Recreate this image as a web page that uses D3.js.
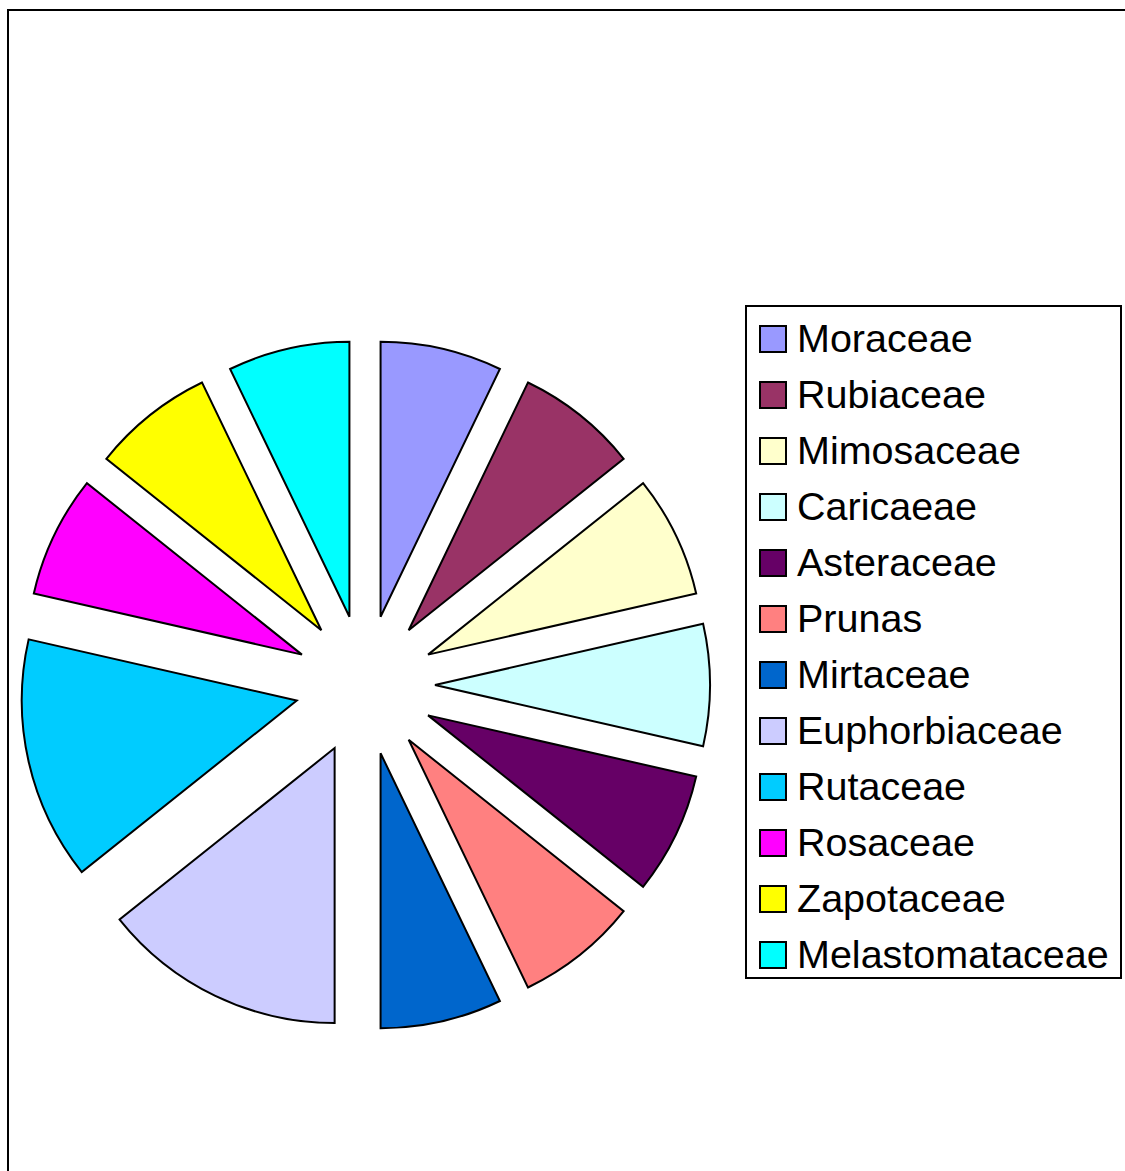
<!DOCTYPE html>
<html>
<head>
<meta charset="utf-8">
<script src="https://cdn.jsdelivr.net/npm/d3@7"></script>
<style>
  html, body { margin: 0; padding: 0; background: #fff; }
  svg { display: block; }
</style>
</head>
<body>
<svg id="chart" width="1125" height="1171"></svg>
<script>
// Plant families and their counts
const families = ["Moraceae", "Rubiaceae", "Mimosaceae", "Caricaeae", "Asteraceae", "Prunas",
                  "Mirtaceae", "Euphorbiaceae", "Rutaceae", "Rosaceae", "Zapotaceae", "Melastomataceae"];
const counts = [1, 1, 1, 1, 1, 1, 1, 2, 2, 1, 1, 1];
const colors = ["#9999FF", "#993366", "#FFFFCC", "#CCFFFF", "#660066", "#FF8080",
                "#0066CC", "#CCCCFF", "#00CCFF", "#FF00FF", "#FFFF00", "#00FFFF"];

const svg = d3.select("#chart");

// outer frame (runs off the right and bottom edges)
svg.append("rect")
  .attr("x", 8).attr("y", 10)
  .attr("width", 1140).attr("height", 1200)
  .attr("fill", "none").attr("stroke", "#000").attr("stroke-width", 2);

const cx = 365, cy = 685, radius = 275, explode = 70;

const pie = d3.pie().sort(null).value(d => d.value);
const arc = d3.arc().innerRadius(0).outerRadius(radius);
const data = families.map((name, i) => ({ name, value: counts[i], color: colors[i] }));

const g = svg.append("g").attr("transform", `translate(${cx},${cy})`);
g.selectAll("path")
  .data(pie(data))
  .join("path")
  .attr("d", arc)
  .attr("transform", d => {
    const a = (d.startAngle + d.endAngle) / 2;
    return `translate(${explode * Math.sin(a)},${-explode * Math.cos(a)})`;
  })
  .attr("fill", d => d.data.color)
  .attr("stroke", "#000")
  .attr("stroke-width", 2)
  .attr("stroke-linejoin", "miter");

// legend
const lg = svg.append("g");
lg.append("rect")
  .attr("x", 746).attr("y", 306)
  .attr("width", 375).attr("height", 672)
  .attr("fill", "#fff").attr("stroke", "#000").attr("stroke-width", 2);

const rowH = 56, firstY = 339;
const items = lg.selectAll("g.item")
  .data(data)
  .join("g")
  .attr("class", "item")
  .attr("transform", (d, i) => `translate(0,${firstY + i * rowH})`);

items.append("rect")
  .attr("x", 760).attr("y", -13)
  .attr("width", 26).attr("height", 26)
  .attr("fill", d => d.color)
  .attr("stroke", "#000").attr("stroke-width", 2);

items.append("text")
  .attr("x", 797).attr("y", 13)
  .attr("font-family", "'Liberation Sans', Arial, sans-serif")
  .attr("font-size", 39.5)
  .attr("fill", "#000")
  .text(d => d.name);
</script>
</body>
</html>
